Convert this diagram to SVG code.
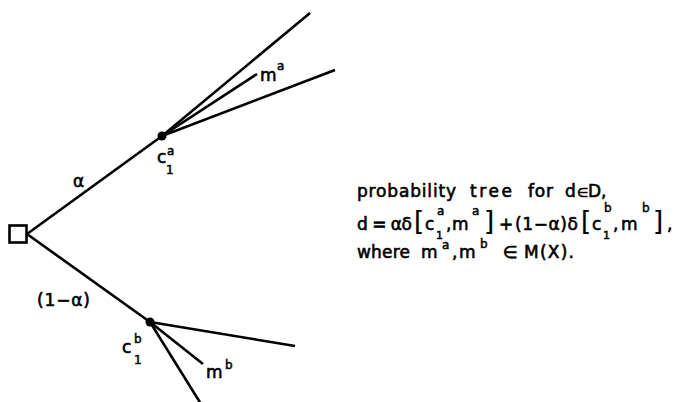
<svg xmlns="http://www.w3.org/2000/svg" width="679" height="402" viewBox="0 0 679 402">
<style>
.e{stroke:#000;stroke-width:2.6;fill:none;stroke-linecap:butt}
.t{font-family:"DejaVu Sans","Liberation Sans",sans-serif;font-size:17px;fill:#000;stroke:#000;stroke-width:0.6}
.s{font-family:"DejaVu Sans","Liberation Sans",sans-serif;font-size:12px;fill:#000;stroke:#000;stroke-width:0.5}
.n{font-family:"DejaVu Sans","Liberation Sans",sans-serif;font-size:11px;fill:#000;stroke:#000;stroke-width:0.5}
.b{font-family:"DejaVu Sans","Liberation Sans",sans-serif;font-size:26px;fill:#000;stroke:#000;stroke-width:0.2}
</style>
<rect width="679" height="402" fill="#fff"/>
<g id="connectors">
<line class="e" x1="27" y1="234" x2="162" y2="136"/>
<line class="e" x1="27" y1="234" x2="150" y2="322"/>
<line class="e" x1="162" y1="136" x2="310" y2="13"/>
<line class="e" x1="162" y1="136" x2="257" y2="74"/>
<line class="e" x1="162" y1="136" x2="335" y2="70"/>
<line class="e" x1="150" y1="322" x2="295" y2="346"/>
<line class="e" x1="150" y1="322" x2="203" y2="364"/>
<line class="e" x1="150" y1="322" x2="201" y2="404"/>
</g>
<g id="root"><rect x="9.5" y="225.5" width="17" height="17" fill="#fff" stroke="#000" stroke-width="2.6"/></g>
<g id="node-a"><circle cx="162" cy="136" r="4.5"/>
<text class="t" x="157" y="163">c</text><text class="s" x="167" y="155">a</text><text class="s" x="166" y="174">1</text>
</g>
<g id="node-b"><circle cx="150" cy="322" r="4.5"/>
<text class="t" x="122" y="353">c</text><text class="s" x="134" y="343">b</text><text class="s" x="134" y="364">1</text>
</g>
<g id="leaf-ma"><text class="t" x="260" y="81">m</text><text class="s" x="277" y="70">a</text></g>
<g id="leaf-mb"><text class="t" x="206" y="378">m</text><text class="s" x="225" y="369">b</text></g>
<g id="labels">
<text class="t" x="73" y="187">α</text>
<text class="t" x="37" y="306" textLength="53" lengthAdjust="spacing">(1−α)</text>
</g>
<g id="caption">
<text class="t" x="357" y="197" textLength="99" lengthAdjust="spacing">probability</text>
<text class="t" x="470" y="197" textLength="42" lengthAdjust="spacing">tree</text>
<text class="t" x="528" y="197" textLength="25" lengthAdjust="spacing">for</text>
<text class="t" x="565" y="197">d</text>
<text class="t" x="577" y="197" style="font-size:13px">∈</text>
<text class="t" x="588" y="197">D,</text>
<text class="t" x="357" y="230" textLength="55" lengthAdjust="spacing">d = αδ</text>
<text class="b" x="414" y="230">[</text>
<text class="t" x="425" y="230">c</text><text class="s" x="437" y="215">a</text><text class="n" x="436" y="239">1</text>
<text class="t" x="446" y="230">,</text>
<text class="t" x="452" y="230">m</text><text class="s" x="472" y="215">a</text>
<text class="b" x="484" y="230">]</text>
<text class="t" x="499" y="230">+</text>
<text class="t" x="515" y="230" textLength="63" lengthAdjust="spacing">(1−α)δ</text>
<text class="b" x="581" y="230">[</text>
<text class="t" x="592" y="230">c</text><text class="s" x="604" y="212">b</text><text class="n" x="603" y="239">1</text>
<text class="t" x="613" y="230">,</text>
<text class="t" x="621" y="230">m</text><text class="s" x="642" y="212">b</text>
<text class="b" x="653" y="230">]</text>
<text class="t" x="667" y="230">,</text>
<text class="t" x="357" y="258" textLength="53" lengthAdjust="spacing">where</text>
<text class="t" x="421" y="258">m</text><text class="s" x="442" y="249">a</text>
<text class="t" x="452" y="258">,</text>
<text class="t" x="459" y="258">m</text><text class="s" x="480" y="248">b</text>
<text class="t" x="503" y="258">∈</text>
<text class="t" x="524" y="258" textLength="50" lengthAdjust="spacing">M(X).</text>
</g>
</svg>
